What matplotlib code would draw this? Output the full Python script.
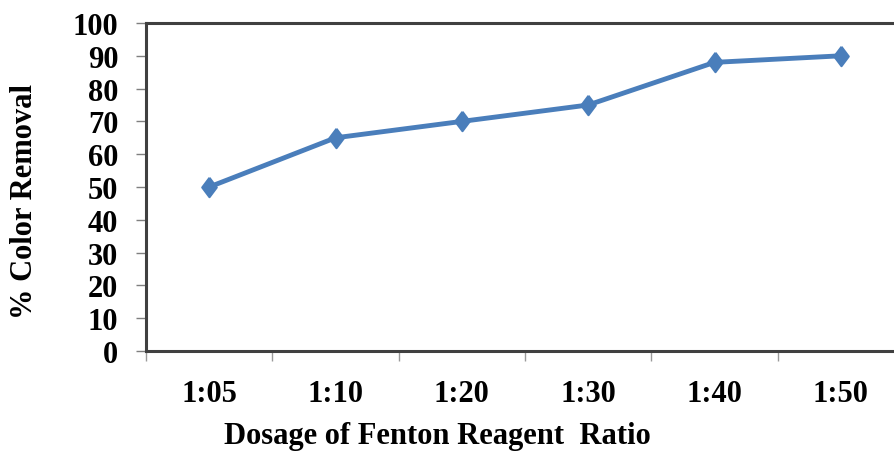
import matplotlib.pyplot as plt

# Colour removal vs Fenton reagent dosage ratio
ratios = ['1:05', '1:10', '1:20', '1:30', '1:40', '1:50']
removal = [50, 65, 70, 75, 88, 90]
y_ticks = list(range(0, 101, 10))

plt.rcParams['font.family'] = 'Liberation Serif'
plt.rcParams['font.weight'] = 'bold'

# slightly tall diamond marker
diamond = [(0, 1), (0.75, 0), (0, -1), (-0.75, 0), (0, 1)]

fig = plt.figure(figsize=(8.94, 4.52), dpi=100)
# axes runs past the right edge of the figure
ax = fig.add_axes([146 / 894, 100 / 452, 758 / 894, 328 / 452])

x = list(range(len(ratios)))
ax.plot(x, removal, color='#4a7ebb', lw=3.5, marker=diamond, markersize=14,
        markeredgewidth=1.5, markeredgecolor='#4a7ebb', solid_capstyle='round')

ax.set_xlim(-0.5, len(ratios) - 0.5)
ax.set_ylim(0, 100)
ax.set_yticks(y_ticks)
ax.set_xticks(x)
ax.set_xticklabels(ratios)
ax.set_xticks([i - 0.5 for i in range(len(ratios) + 1)], minor=True)

ax.tick_params(axis='y', direction='out', length=7, width=1, color='#7f7f7f',
               labelsize=22, pad=13)
ax.tick_params(axis='x', which='major', length=0, labelsize=22, pad=20)
ax.tick_params(axis='x', which='minor', direction='out', length=7, width=1,
               color='#9a9a9a')

for side in ['left', 'bottom', 'top']:
    ax.spines[side].set_color('#404040')
    ax.spines[side].set_linewidth(2.2)
ax.spines['right'].set_visible(False)

ax.set_xlabel('Dosage of Fenton Reagent  Ratio', fontsize=22, fontweight='bold')
ax.xaxis.set_label_coords(0.384, -0.214)
ax.set_ylabel('% Color Removal', fontsize=22, fontweight='bold')
ax.yaxis.set_label_coords(-0.141, 0.459)

fig.savefig('out.png', dpi=100)
